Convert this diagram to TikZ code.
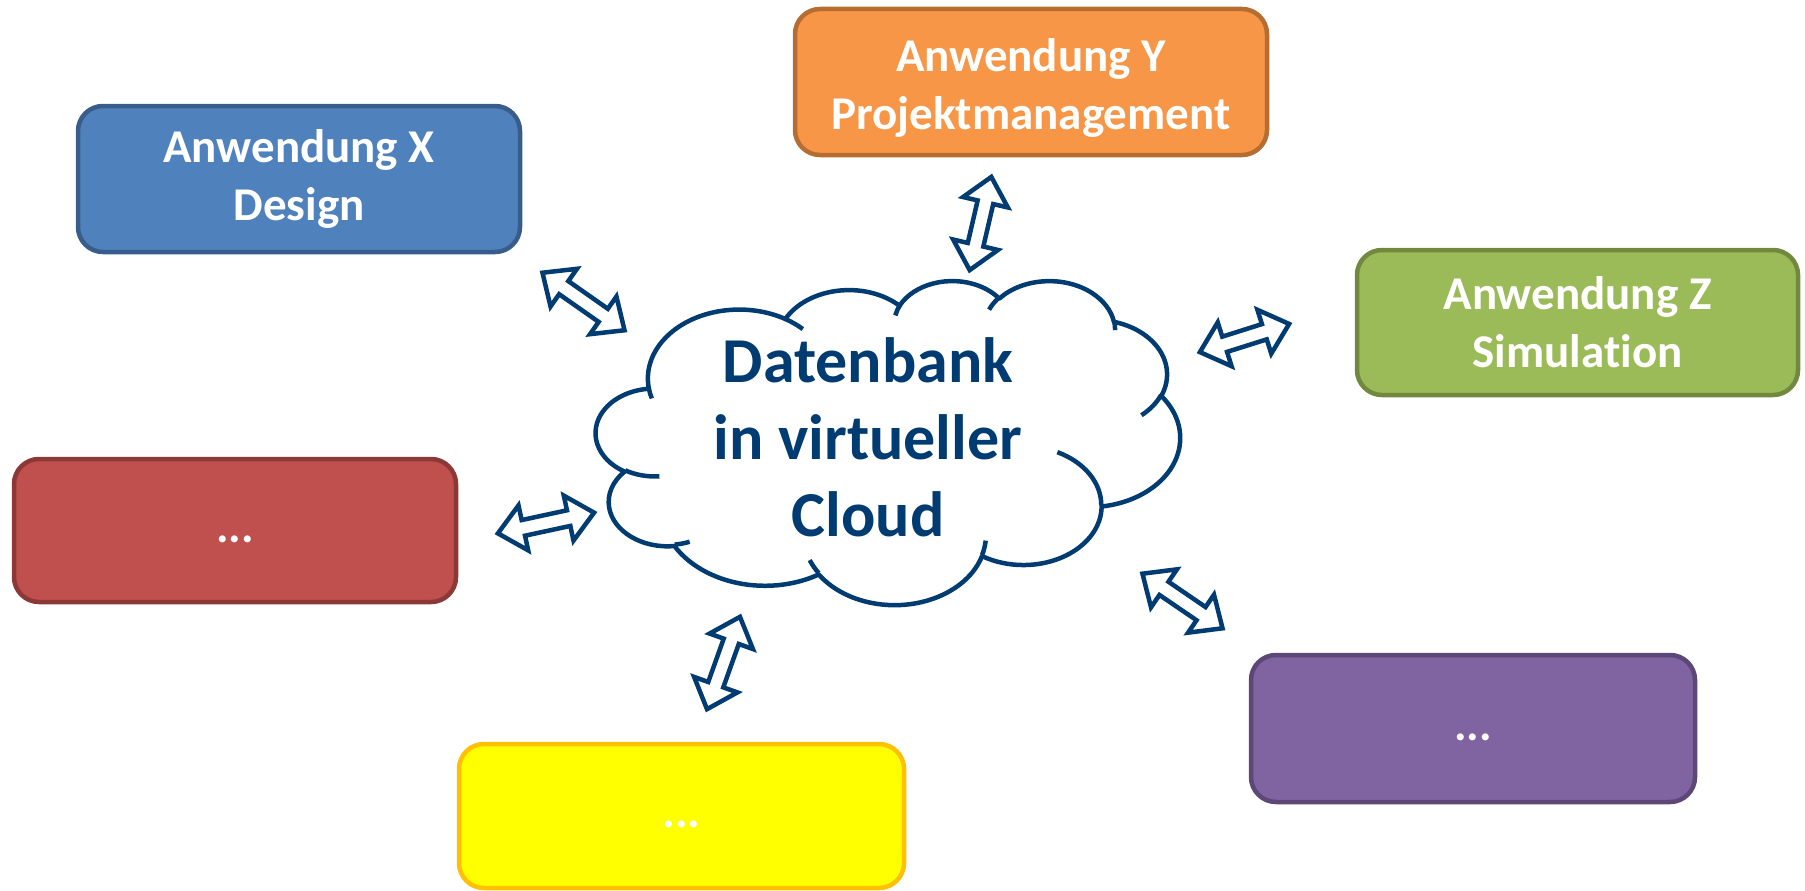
\documentclass[tikz,border=0pt]{standalone}
\usepackage{fontspec}
\setmainfont{Carlito}[Ligatures=NoCommon]
\usetikzlibrary{calc}
\definecolor{navy}{HTML}{003B71}
\definecolor{bluefill}{HTML}{4F81BD}\definecolor{blueline}{HTML}{385D8A}
\definecolor{orfill}{HTML}{F79646}\definecolor{orline}{HTML}{B66D31}
\definecolor{grfill}{HTML}{9BBB59}\definecolor{grline}{HTML}{71893F}
\definecolor{rdfill}{HTML}{C0504D}\definecolor{rdline}{HTML}{8C3836}
\definecolor{yefill}{HTML}{FFFF00}\definecolor{yeline}{HTML}{FFC000}
\definecolor{pufill}{HTML}{8064A2}\definecolor{puline}{HTML}{5C4776}

% arc of the cloud: visual angles -> parametric angles
\newcommand\cldarc[5]{%
  \pgfmathsetmacro\cldS{atan2((#2)*sin(#4),(#3)*cos(#4))}%
  \pgfmathsetmacro\cldE{atan2((#2)*sin((#4)+(#5)),(#3)*cos((#4)+(#5)))}%
  \pgfmathsetmacro\cldD{\cldE-\cldS}%
  \pgfmathsetmacro\cldD{ifthenelse(\cldD<0,\cldD+360,\cldD)}%
  \expandafter\xdef\csname cS#1\endcsname{\cldS}%
  \expandafter\xdef\csname cD#1\endcsname{\cldD}%
}

% hollow double-headed arrow between two named coordinates (tips)
\newcommand\dblarr[2]{%
  \pgfpointdiff{\pgfpointanchor{#1}{center}}{\pgfpointanchor{#2}{center}}%
  \pgfgetlastxy{\arrDX}{\arrDY}%
  \pgfmathsetmacro\arrAng{atan2(\arrDY,\arrDX)}%
  \pgfmathsetmacro\arrLen{veclen(\arrDX,\arrDY)}%
  \begin{scope}[shift={(#1)}, rotate=\arrAng]
    \draw[arrowline] (3pt,0pt) -- (29pt,23pt) -- (29pt,8pt)
      -- ({(\arrLen-29)*1pt},8pt) -- ({(\arrLen-29)*1pt},23pt)
      -- ({(\arrLen-3)*1pt},0pt) -- ({(\arrLen-29)*1pt},-23pt)
      -- ({(\arrLen-29)*1pt},-8pt) -- (29pt,-8pt) -- (29pt,-23pt) -- cycle;
  \end{scope}}

\tikzset{
  boxtext/.style={text=white, font=\fontsize{47}{58}\selectfont\bfseries,
    align=center, inner sep=0pt},
  appbox/.style={boxtext, draw, line width=4.5pt, rounded corners=25pt},
  dotsbox/.style={appbox, text height=35pt, text depth=12pt},
  arrowline/.style={draw=navy, fill=white, line width=4.5pt, line join=miter},
  cloudline/.style={draw=navy, line width=4.5pt, line join=round},
}

\begin{document}
\begin{tikzpicture}[x=1pt, y=-1pt]
\useasboundingbox (0,0) rectangle (1805,891);

% cloud arcs (PowerPoint cloud geometry, scaled 1/10)
\cldarc{a}{675.3}{919.0}{-190.48748}{123.78053}
\cldarc{b}{533.3}{726.7}{-144.10238}{89.94523}
\cldarc{c}{436.5}{594.5}{-145.80792}{99.72302}
\cldarc{d}{485.7}{659.5}{-130.98607}{117.24173}
\cldarc{e}{533.3}{727.3}{-78.70888}{109.02692}
\cldarc{f}{677.5}{922.0}{-46.26725}{130.269}
\cldarc{g}{578.5}{786.7}{0.62502}{114.03333}
\cldarc{h}{675.2}{921.5}{22.4516}{115.17255}
\cldarc{i}{772.0}{1054.3}{66.24263}{75.71102}
\cldarc{j}{436.0}{591.8}{-274.94208}{146.73557}
\cldarc{k}{434.5}{594.5}{-246.8285}{152.51885}
\cldarc{l}{434.5}{594.5}{86.742}{26.4295}
\cldarc{m}{436.0}{591.8}{73.61047}{11.44747}
\cldarc{n}{675.2}{921.5}{137.62415}{14.0811}
\cldarc{o}{675.2}{921.5}{6.45327}{15.99835}
\cldarc{p}{578.5}{786.7}{-70.29235}{70.91737}
\cldarc{q}{533.3}{727.3}{30.31803}{27.7515}
\cldarc{r}{485.7}{659.5}{-13.74433}{14.8589}
\cldarc{s}{485.7}{659.5}{-149.18145}{18.19537}
\cldarc{t}{436.5}{594.5}{-163.49427}{17.68635}
\cldarc{u}{675.3}{919.0}{-66.70695}{12.31935}
\cldarc{v}{675.3}{919.0}{157.65435}{11.85817}

\begin{scope}[shift={(596,280)}, x=0.135185pt, y=-0.075pt]
  \draw[cloudline, fill=white] (390.0,1437.0)
    arc[x radius=675.3, y radius=919.0, start angle=\cSa, delta angle=\cDa]
    arc[x radius=533.3, y radius=726.7, start angle=\cSb, delta angle=\cDb]
    arc[x radius=436.5, y radius=594.5, start angle=\cSc, delta angle=\cDc]
    arc[x radius=485.7, y radius=659.5, start angle=\cSd, delta angle=\cDd]
    arc[x radius=533.3, y radius=727.3, start angle=\cSe, delta angle=\cDe]
    arc[x radius=677.5, y radius=922.0, start angle=\cSf, delta angle=\cDf]
    arc[x radius=578.5, y radius=786.7, start angle=\cSg, delta angle=\cDg]
    arc[x radius=675.2, y radius=921.5, start angle=\cSh, delta angle=\cDh]
    arc[x radius=772.0, y radius=1054.3, start angle=\cSi, delta angle=\cDi]
    arc[x radius=436.0, y radius=591.8, start angle=\cSj, delta angle=\cDj]
    arc[x radius=434.5, y radius=594.5, start angle=\cSk, delta angle=\cDk]
    -- cycle;
  \draw[cloudline]
    (469.3,2617.7) arc[x radius=434.5, y radius=594.5, start angle=\cSl, delta angle=\cDl]
    (692.8,3489.9) arc[x radius=436.0, y radius=591.8, start angle=\cSm, delta angle=\cDm]
    (1647.8,3909.0) arc[x radius=675.2, y radius=921.5, start angle=\cSn, delta angle=\cDn]
    (2882.7,3475.1) arc[x radius=675.2, y radius=921.5, start angle=\cSo, delta angle=\cDo]
    (3412.9,2295.4) arc[x radius=578.5, y radius=786.7, start angle=\cSp, delta angle=\cDp]
    (4179.8,1535.4) arc[x radius=533.3, y radius=727.3, start angle=\cSq, delta angle=\cDq]
    (3832.4,542.6) arc[x radius=485.7, y radius=659.5, start angle=\cSr, delta angle=\cDr]
    (2907.8,395.2) arc[x radius=485.7, y radius=659.5, start angle=\cSs, delta angle=\cDs]
    (2214.1,472.0) arc[x radius=436.5, y radius=594.5, start angle=\cSt, delta angle=\cDt]
    (1400.0,519.2) arc[x radius=675.3, y radius=919.0, start angle=\cSu, delta angle=\cDu]
    (412.7,1578.9) arc[x radius=675.3, y radius=919.0, start angle=\cSv, delta angle=\cDv];
\end{scope}

\node[text=navy, font=\fontsize{64}{77}\selectfont\bfseries, align=center, inner sep=0pt]
  (cloud) at (868,437) {Datenbank\\in virtueller\\Cloud};

% application boxes
\node[appbox, fill=bluefill, draw=blueline, minimum width=442pt, minimum height=146pt]
  (appx) at (299,179) {Anwendung X\\Design};
\node[appbox, fill=orfill, draw=orline, minimum width=472pt, minimum height=146pt]
  (appy) at (1031,82) {};
\node[boxtext] (appytext) at (1031,88) {Anwendung Y\\Projektmanagement};
\node[appbox, fill=grfill, draw=grline, minimum width=441pt, minimum height=145pt]
  (appz) at (1577.5,322.5) {Anwendung Z\\Simulat\kern0pt ion};
\node[dotsbox, fill=rdfill, draw=rdline, minimum width=442pt, minimum height=143pt]
  (appred) at (235,530.5) {...};
\node[dotsbox, fill=yefill, draw=yeline, minimum width=445pt, minimum height=144pt]
  (appyel) at (681.5,816) {...};
\node[dotsbox, fill=pufill, draw=puline, minimum width=444pt, minimum height=147pt]
  (apppur) at (1473,728.5) {...};

% arrow tips
\coordinate (xa) at (540,271);   \coordinate (xb) at (627,332);
\coordinate (ya) at (992,174);   \coordinate (yb) at (969,273);
\coordinate (za) at (1197,353);  \coordinate (zb) at (1292,323);
\coordinate (ra) at (495,534);   \coordinate (rb) at (597,512);
\coordinate (ea) at (741,614);   \coordinate (eb) at (706,712);
\coordinate (pa) at (1140,572);  \coordinate (pb) at (1225,630);

\dblarr{xa}{xb}
\dblarr{ya}{yb}
\dblarr{za}{zb}
\dblarr{ra}{rb}
\dblarr{ea}{eb}
\dblarr{pa}{pb}
\end{tikzpicture}
\end{document}
